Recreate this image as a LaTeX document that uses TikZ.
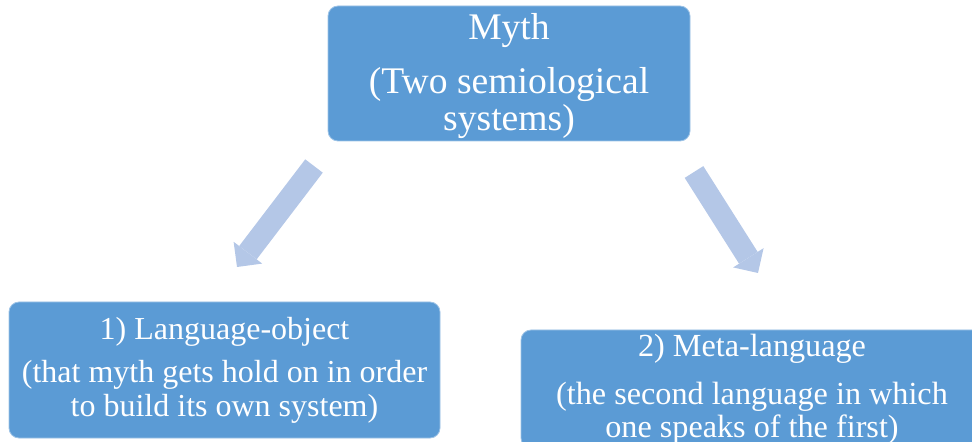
\documentclass[tikz,border=0pt]{standalone}
\usepackage{fontspec}
\setmainfont{Liberation Serif}
\usetikzlibrary{arrows.meta}
\definecolor{boxblue}{HTML}{5B9BD5}
\definecolor{arrowblue}{HTML}{B4C7E7}

\begin{document}
\begin{tikzpicture}[x=0.5pt, y=-0.5pt]
\useasboundingbox (0,0) rectangle (972,442);

\begin{scope}[every node/.style={rectangle, rounded corners=5pt, fill=boxblue, draw=boxblue!60!white, line width=0.4pt, text=white, align=center, inner sep=0pt}]
\node (myth) at (509, 73.5) [minimum width=181pt, minimum height=67.5pt, font=\fontsize{18.8}{18.6}\selectfont] {\rule{0pt}{15.5pt}Myth\\[8.5pt](Two semiological\\systems)};
\node (langobj) at (224.5, 370) [minimum width=215.5pt, minimum height=68pt, font=\fontsize{16}{16.8}\selectfont] {1) Language-object\\[5pt](that myth gets hold on in order\\to build its own system)};
\node (metalang) at (752, 389) [minimum width=231pt, minimum height=59pt, font=\fontsize{16.1}{16.6}\selectfont] {2) Meta-language\\[7.5pt](the second language in which\\one speaks of the first)};
\end{scope}

\coordinate (ltail) at (314, 166);
\coordinate (ltip) at (237, 267);
\coordinate (rtail) at (694, 172);
\coordinate (rtip) at (758, 273);
\begin{scope}[arrowblue, line width=11pt, -{Triangle[length=9pt, width=18pt, line width=0pt]}]
\draw (ltail) -- (ltip);
\draw (rtail) -- (rtip);
\end{scope}

\end{tikzpicture}
\end{document}
